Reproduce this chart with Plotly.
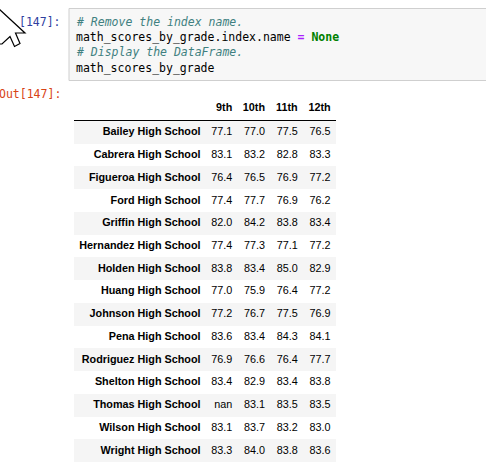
import plotly.graph_objects as go

schools = ["Bailey High School", "Cabrera High School", "Figueroa High School",
           "Ford High School", "Griffin High School", "Hernandez High School",
           "Holden High School", "Huang High School", "Johnson High School",
           "Pena High School", "Rodriguez High School", "Shelton High School",
           "Thomas High School", "Wilson High School", "Wright High School"]
grades = ["9th", "10th", "11th", "12th"]
g9 = [77.1, 83.1, 76.4, 77.4, 82.0, 77.4, 83.8, 77.0, 77.2, 83.6, 76.9, 83.4, None, 83.1, 83.3]
g10 = [77.0, 83.2, 76.5, 77.7, 84.2, 77.3, 83.4, 75.9, 76.7, 83.4, 76.6, 82.9, 83.1, 83.7, 84.0]
g11 = [77.5, 82.8, 76.9, 76.9, 83.8, 77.1, 85.0, 76.4, 77.5, 84.3, 76.4, 83.4, 83.5, 83.2, 83.8]
g12 = [76.5, 83.3, 77.2, 76.2, 83.4, 77.2, 82.9, 77.2, 76.9, 84.1, 77.7, 83.8, 83.5, 83.0, 83.6]

# layout constants (pixels)
W, H = 486, 468
TABLE_LEFT, TABLE_RIGHT = 74, 336
COL_RIGHT = [200.5, 232.3, 265.0, 297.7, 330.6]   # right edge of text in each column
HEADER_Y = 108.3
ROWS_TOP, ROWS_BOTTOM = 121.2, 462.4
FONT = "Liberation Sans, Arial, sans-serif"
FS = 10.8
MONO = "DejaVu Sans Mono, monospace"
MFS = 11.5


def fmt(v):
    return "nan" if v is None else f"{v:.1f}"


fig = go.Figure()

# striped row backgrounds
striped = [s for i, s in enumerate(schools) if i % 2 == 0]
fig.add_trace(go.Bar(
    y=striped, x=[TABLE_RIGHT - TABLE_LEFT] * len(striped), base=TABLE_LEFT,
    orientation="h", width=1.0, marker=dict(color="#f5f5f5", line=dict(width=0)),
    xaxis="x", yaxis="y2", hoverinfo="skip",
))

# index column (bold school names)
fig.add_trace(go.Scatter(
    x=[COL_RIGHT[0]] * len(schools), y=schools, mode="text",
    text=[f"<b>{s}</b>" for s in schools], textposition="middle left",
    textfont=dict(family=FONT, size=FS, color="#000000"),
    xaxis="x", yaxis="y2", cliponaxis=False, hoverinfo="skip",
))

# value columns
for ci, col in enumerate([g9, g10, g11, g12], start=1):
    fig.add_trace(go.Scatter(
        x=[COL_RIGHT[ci]] * len(schools), y=schools, mode="text",
        text=[fmt(v) for v in col], textposition="middle left",
        textfont=dict(family=FONT, size=FS, color="#000000"),
        xaxis="x", yaxis="y2", cliponaxis=False, hoverinfo="skip",
    ))

# header
fig.add_trace(go.Scatter(
    x=COL_RIGHT[1:], y=[HEADER_Y] * len(grades), mode="text",
    text=[f"<b>{g}</b>" for g in grades], textposition="middle left",
    textfont=dict(family=FONT, size=FS, color="#000000"),
    xaxis="x", yaxis="y", cliponaxis=False, hoverinfo="skip",
))

shapes = [
    # code cell box
    dict(type="rect", xref="x", yref="y", x0=69, x1=490, y0=8.5, y1=80.5,
         fillcolor="#f7f7f7", line=dict(color="#cfcfcf", width=1), layer="below"),
    # header rule
    dict(type="line", xref="x", yref="y", x0=TABLE_LEFT, x1=TABLE_RIGHT, y0=120.5, y1=120.5,
         line=dict(color="#000000", width=1.2)),
    # mouse cursor
    dict(type="path", xref="x", yref="y",
         path="M -1 9 L 25 33 L 15.5 33 L 20 43.5 L 14.5 46.5 L 10 36.5 L 2 44 L -1 44 Z",
         fillcolor="#ffffff", line=dict(color="#000000", width=1.2)),
]

code_lines = [
    "<i><span style='color:#408080'># Remove the index name.</span></i>",
    "math_scores_by_grade.index.name <span style='color:#AA22FF'><b>=</b></span> "
    "<span style='color:#008000'><b>None</b></span>",
    "<i><span style='color:#408080'># Display the DataFrame.</span></i>",
    "math_scores_by_grade",
]
line_y = [22.3, 37.0, 52.3, 68.0]

annotations = []
for txt, y in zip(code_lines, line_y):
    annotations.append(dict(x=74, y=y, xref="x", yref="y", text=txt, showarrow=False,
                            xanchor="left", yanchor="middle",
                            font=dict(family=MONO, size=MFS, color="#000000")))
annotations.append(dict(x=63, y=22.3, xref="x", yref="y", text="[147]:", showarrow=False,
                        xanchor="right", yanchor="middle",
                        font=dict(family=MONO, size=MFS, color="#303F9F")))
annotations.append(dict(x=63, y=94.3, xref="x", yref="y", text="Out[147]:", showarrow=False,
                        xanchor="right", yanchor="middle",
                        font=dict(family=MONO, size=MFS, color="#D84315")))

fig.update_layout(
    width=W, height=H,
    margin=dict(l=0, r=0, t=0, b=0),
    paper_bgcolor="#ffffff", plot_bgcolor="rgba(0,0,0,0)",
    xaxis=dict(range=[0, W], visible=False, fixedrange=True, domain=[0, 1]),
    yaxis=dict(range=[H, 0], visible=False, fixedrange=True, domain=[0, 1]),
    yaxis2=dict(type="category", categoryorder="array", categoryarray=schools,
                range=[len(schools) - 0.5, -0.5], visible=False, fixedrange=True,
                domain=[1 - ROWS_BOTTOM / H, 1 - ROWS_TOP / H], anchor="x"),
    shapes=shapes, annotations=annotations,
    showlegend=False, bargap=0,
)

fig.write_html(
    "out.html",
    config={"displayModeBar": False},
    post_script="document.body.style.margin='0';document.body.style.overflow='hidden';",
)
